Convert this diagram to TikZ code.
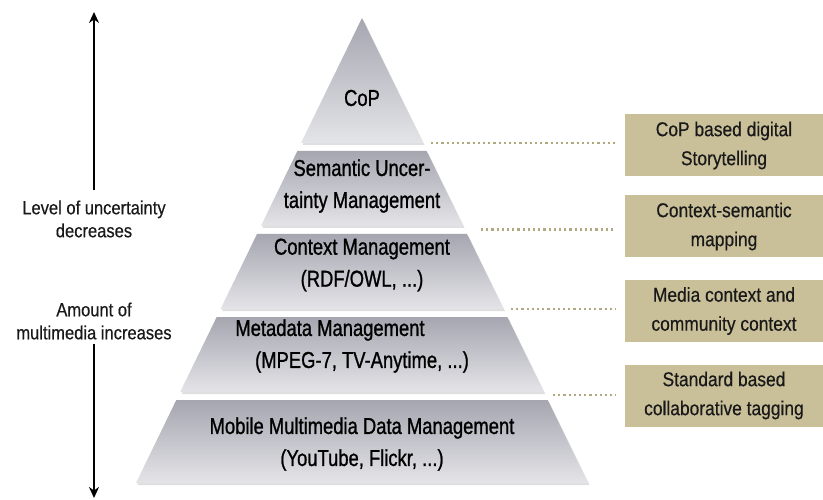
\documentclass[tikz,border=0pt]{standalone}
\usepackage{fontspec}
\setmainfont{Liberation Sans}
\newfontfamily\pyrfont[FakeStretch=0.8,FakeBold=1]{Liberation Sans}
\newfontfamily\sidefont[FakeStretch=0.87,FakeBold=0.4]{Liberation Sans}
\usetikzlibrary{arrows.meta,shadows}
\definecolor{tanbox}{RGB}{201,191,153}
\definecolor{dotcol}{RGB}{178,168,128}
\definecolor{layertop}{RGB}{165,166,176}
\definecolor{layerbot}{RGB}{228,228,232}
\definecolor{txt}{RGB}{25,25,25}
\tikzset{
  layer/.style={top color=layertop, bottom color=layerbot, draw=none,
    drop shadow={opacity=0.25, shadow xshift=1.5pt, shadow yshift=-2pt}},
  pyrtext/.style={align=center, text=black, inner sep=0pt,
    font={\pyrfont\fontsize{23}{32}\selectfont}},
  sidetext/.style={align=center, text=txt, inner sep=2pt,
    font={\sidefont\fontsize{19}{23}\selectfont}},
  tbox/.style={fill=tanbox, minimum width=198pt, minimum height=62pt, inner sep=0pt,
    align=center, text=txt, font={\sidefont\fontsize{20}{29}\selectfont}},
  dotline/.style={draw=dotcol, line width=2.2pt, dash pattern=on 2.2pt off 3pt},
  arr/.style={line width=1.8pt, -{Stealth[length=11pt,width=10pt]}}
}
\begin{document}
\begin{tikzpicture}[x=1pt,y=-1pt]
\useasboundingbox (0,0) rectangle (823,500);
\fill[white] (0,0) rectangle (823,500);
% pyramid layers (centre x = 362)
\path[layer] (362,18) -- (423,143) -- (301,143) -- cycle;
\path[layer] (297.4,151) -- (426.6,151) -- (463.1,226) -- (260.9,226) -- cycle;
\path[layer] (257,234) -- (467,234) -- (503.4,309) -- (220.6,309) -- cycle;
\path[layer] (216.7,317) -- (507.3,317) -- (543.8,392) -- (180.2,392) -- cycle;
\path[layer] (176.3,400) -- (547.7,400) -- (588,483) -- (136,483) -- cycle;
% pyramid texts
\node[pyrtext] (cop) at (362,98) {CoP};
\node[pyrtext] (sem) at (362,186) {Semantic Uncer-\\tainty Management};
\node[pyrtext] (ctx) at (362,265) {Context Management\\(RDF/OWL, ...)};
\node[pyrtext] (meta) at (362,346) {Metadata Management\hspace*{64pt}\\(MPEG-7, TV-Anytime, ...)};
\node[pyrtext] (mob) at (362,444) {Mobile Multimedia Data Management\\(YouTube, Flickr, ...)};
% right boxes
\node[tbox] (b1) at (724,145.5) {CoP based digital\\Storytelling};
\node[tbox] (b2) at (724,226.5) {Context-semantic\\mapping};
\node[tbox] (b3) at (724,311) {Media context and\\community context};
\node[tbox] (b4) at (724,395.5) {Standard based\\collaborative tagging};
% dotted connectors
\coordinate (d1) at (431,143);
\coordinate (d2) at (481,229.5);
\coordinate (d3) at (511,309);
\coordinate (d4) at (553,395);
\draw[dotline] (d1) -- ([xshift=-9pt]b1.west |- d1);
\draw[dotline] (d2) -- ([xshift=-9pt]b2.west |- d2);
\draw[dotline] (d3) -- ([xshift=-9pt]b3.west |- d3);
\draw[dotline] (d4) -- ([xshift=-9pt]b4.west |- d4);
% left texts and arrows
\node[sidetext] (lvl) at (94,219) {Level of uncertainty\\decreases};
\node[sidetext] (amt) at (94,321) {Amount of\\multimedia increases};
\coordinate (toptip) at (94,12);
\coordinate (bottip) at (94,498);
\draw[arr] ([yshift=8pt]lvl.north) -- (toptip);
\draw[arr] ([yshift=-2pt]amt.south) -- (bottip);
\end{tikzpicture}
\end{document}
